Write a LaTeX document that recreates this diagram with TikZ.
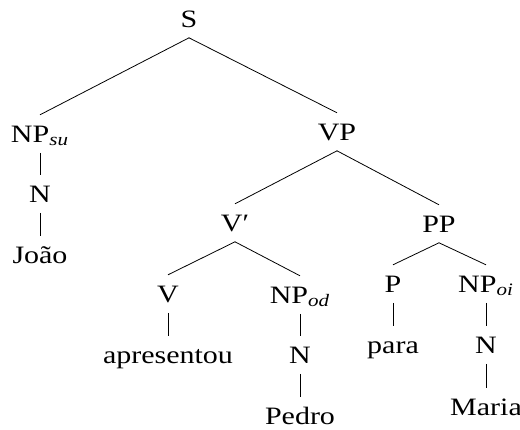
\documentclass[tikz,border=0pt]{standalone}
\usepackage{fontspec}
\setmainfont[FakeStretch=1.2]{Liberation Serif}
\begin{document}
\begin{tikzpicture}[x=0.5pt,y=-0.5pt,
  cat/.style={anchor=base,inner xsep=0pt,inner ysep=5.2pt,text height=8.2pt,text depth=0pt,font=\fontsize{12.5}{15}\selectfont}]
\useasboundingbox (0,0) rectangle (520,429);
\node[cat] (S) at (189,27) {S};
\node[cat] (NPsu) at (40,142) {NP\textsubscript{\textit{su}}};
\node[cat] (Nsu) at (40,202) {N};
\node[cat] (Joao) at (40,263) {João};
\node[cat] (VP) at (337,140) {VP};
\node[cat] (Vbar) at (235,231) {V′};
\node[cat] (PP) at (439,232) {PP};
\node[cat] (V) at (168,302) {V};
\node[cat] (apresentou) at (168,363) {apresentou};
\node[cat] (NPod) at (300,303) {NP\textsubscript{\textit{od}}};
\node[cat] (Nod) at (300,363) {N};
\node[cat] (Pedro) at (300,424) {Pedro};
\node[cat] (P) at (393,292) {P};
\node[cat] (para) at (393,353) {para};
\node[cat] (NPoi) at (486,292) {NP\textsubscript{\textit{oi}}};
\node[cat] (Noi) at (486,353) {N};
\node[cat] (Maria) at (486,415) {Maria};
\path[draw] (S.south) -- (NPsu.north);
\path[draw] (S.south) -- (VP.north);
\path[draw] (NPsu.south) -- (Nsu.north);
\path[draw] (Nsu.south) -- (Joao.north);
\path[draw] (VP.south) -- (Vbar.north);
\path[draw] (VP.south) -- (PP.north);
\path[draw] (Vbar.south) -- (V.north);
\path[draw] (Vbar.south) -- (NPod.north);
\path[draw] (V.south) -- (apresentou.north);
\path[draw] (NPod.south) -- (Nod.north);
\path[draw] (Nod.south) -- (Pedro.north);
\path[draw] (PP.south) -- (P.north);
\path[draw] (PP.south) -- (NPoi.north);
\path[draw] (P.south) -- (para.north);
\path[draw] (NPoi.south) -- (Noi.north);
\path[draw] (Noi.south) -- (Maria.north);
\end{tikzpicture}
\end{document}
